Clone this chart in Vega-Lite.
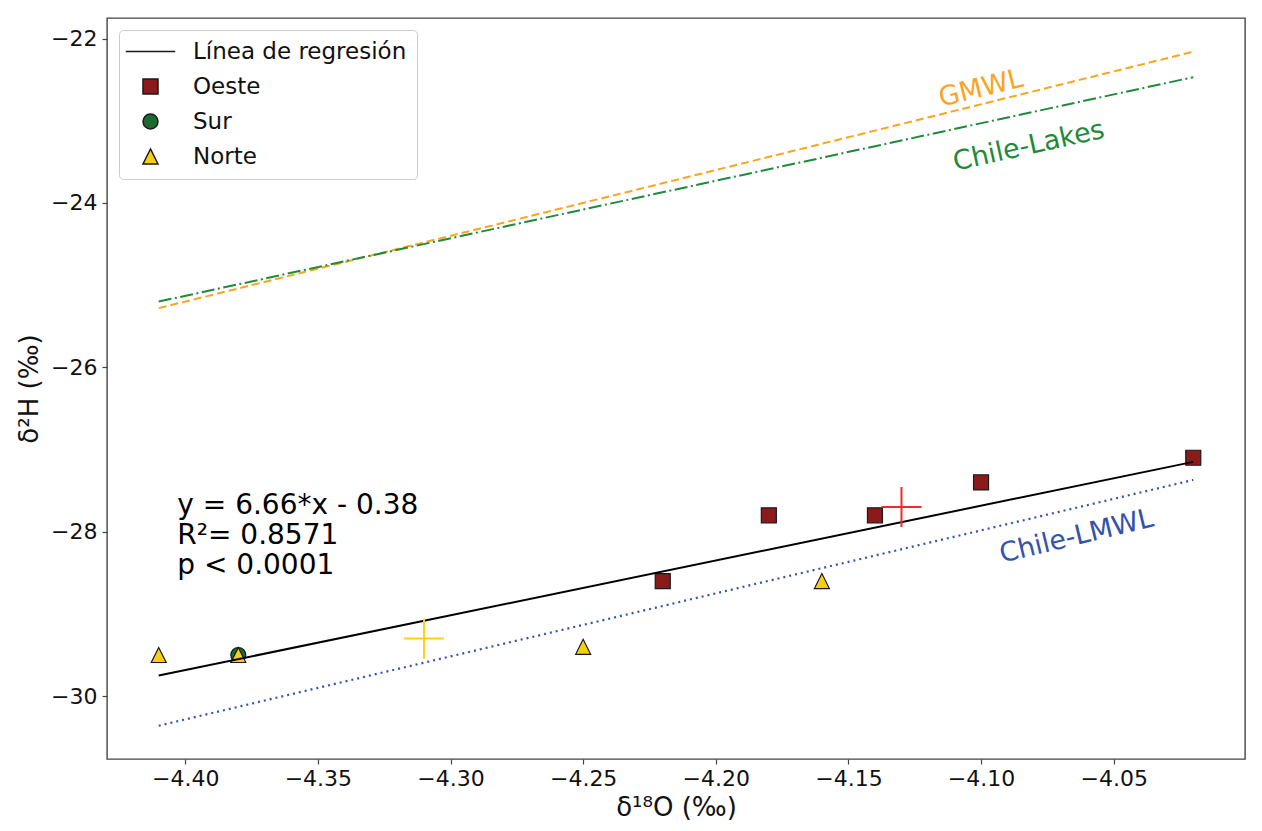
{
  "$schema": "https://vega.github.io/schema/vega-lite/v6.json",
  "width": 1138,
  "height": 741,
  "autosize": {"type": "none"},
  "padding": {"left": 107, "top": 18, "right": 17, "bottom": 72},
  "background": "white",
  "config": {
    "font": "DejaVu Sans",
    "view": {"stroke": "#444444", "strokeWidth": 1.4},
    "axis": {
      "grid": false,
      "domain": false,
      "tickColor": "#444444",
      "tickSize": 5,
      "tickWidth": 1.2,
      "labelFont": "DejaVu Sans",
      "labelFontSize": 22,
      "labelColor": "#111111",
      "titleFont": "DejaVu Sans",
      "titleFontSize": 26,
      "titleFontWeight": "normal",
      "titleColor": "#111111"
    }
  },
  "datasets": {
    "lineas": [
      {"serie": "Regresión", "d18O": -4.41, "d2H": -29.75},
      {"serie": "Regresión", "d18O": -4.02, "d2H": -27.15},
      {"serie": "GMWL", "d18O": -4.41, "d2H": -25.28},
      {"serie": "GMWL", "d18O": -4.02, "d2H": -22.16},
      {"serie": "Chile-Lakes", "d18O": -4.41, "d2H": -25.2},
      {"serie": "Chile-Lakes", "d18O": -4.02, "d2H": -22.47},
      {"serie": "Chile-LMWL", "d18O": -4.41, "d2H": -30.36},
      {"serie": "Chile-LMWL", "d18O": -4.02, "d2H": -27.37}
    ],
    "muestras": [
      {"Grupo": "Oeste", "d18O": -4.22, "d2H": -28.6},
      {"Grupo": "Oeste", "d18O": -4.18, "d2H": -27.8},
      {"Grupo": "Oeste", "d18O": -4.14, "d2H": -27.8},
      {"Grupo": "Oeste", "d18O": -4.1, "d2H": -27.4},
      {"Grupo": "Oeste", "d18O": -4.02, "d2H": -27.1},
      {"Grupo": "Sur", "d18O": -4.38, "d2H": -29.5},
      {"Grupo": "Norte", "d18O": -4.41, "d2H": -29.5},
      {"Grupo": "Norte", "d18O": -4.38, "d2H": -29.5},
      {"Grupo": "Norte", "d18O": -4.25, "d2H": -29.4},
      {"Grupo": "Norte", "d18O": -4.16, "d2H": -28.6}
    ],
    "medias": [
      {"Grupo": "Norte", "d18O": -4.31, "d2H": -29.3},
      {"Grupo": "Oeste", "d18O": -4.13, "d2H": -27.7}
    ],
    "ecuacion": [
      {"texto": "y = 6.66*x - 0.38", "d18O": -4.403, "d2H": -27.79},
      {"texto": "R²= 0.8571", "d18O": -4.403, "d2H": -28.155},
      {"texto": "p < 0.0001", "d18O": -4.403, "d2H": -28.52}
    ],
    "etiquetas": [
      {"texto": "GMWL", "d18O": -4.1, "d2H": -22.61},
      {"texto": "Chile-Lakes", "d18O": -4.082, "d2H": -23.31},
      {"texto": "Chile-LMWL", "d18O": -4.064, "d2H": -28.06}
    ]
  },
  "encoding": {
    "x": {
      "field": "d18O",
      "type": "quantitative",
      "scale": {"domain": [-4.4295, -4.0005], "nice": false, "zero": false},
      "axis": {
        "values": [-4.4, -4.35, -4.3, -4.25, -4.2, -4.15, -4.1, -4.05],
        "format": ".2f",
        "labelPadding": 4,
        "title": "δ¹⁸O (‰)",
        "titlePadding": 5
      }
    },
    "y": {
      "field": "d2H",
      "type": "quantitative",
      "scale": {"domain": [-30.765, -21.75], "nice": false, "zero": false},
      "axis": {
        "values": [-30, -28, -26, -24, -22],
        "format": "d",
        "labelPadding": 5,
        "title": "δ²H (‰)",
        "titlePadding": 8
      }
    }
  },
  "layer": [
    {
      "data": {"name": "lineas"},
      "transform": [{"filter": "datum.serie === 'GMWL'"}],
      "mark": {"type": "line", "color": "#f9a51f", "strokeWidth": 2, "strokeDash": [8, 4]}
    },
    {
      "data": {"name": "lineas"},
      "transform": [{"filter": "datum.serie === 'Chile-Lakes'"}],
      "mark": {"type": "line", "color": "#1f8a3a", "strokeWidth": 2, "strokeDash": [13, 3.5, 2, 3.5]}
    },
    {
      "data": {"name": "lineas"},
      "transform": [{"filter": "datum.serie === 'Chile-LMWL'"}],
      "mark": {"type": "line", "color": "#3353a8", "strokeWidth": 2.2, "strokeDash": [2, 4]}
    },
    {
      "data": {"name": "muestras"},
      "mark": {"type": "point", "filled": true, "opacity": 1, "stroke": "#1a1a1a", "strokeWidth": 1.2, "size": 225},
      "encoding": {
        "fill": {
          "field": "Grupo",
          "type": "nominal",
          "scale": {
            "domain": ["Línea de regresión", "Oeste", "Sur", "Norte"],
            "range": ["#000000", "#8b1a1a", "#1b6b30", "#f6cf14"]
          },
          "legend": {
            "title": null,
            "orient": "top-left",
            "offset": 11.5,
            "padding": 10,
            "fillColor": "white",
            "strokeColor": "#cccccc",
            "cornerRadius": 4,
            "labelFont": "DejaVu Sans",
            "labelFontSize": 23,
            "labelColor": "#111111",
            "labelLimit": 0,
            "labelOffset": 31,
            "symbolOffset": 10,
            "symbolSize": 225,
            "rowPadding": 11,
            "encode": {
              "symbols": {
                "update": {
                  "stroke": {"value": "#1a1a1a"},
                  "strokeWidth": {"value": 1.7},
                  "opacity": {"value": 1}
                }
              }
            }
          }
        },
        "shape": {
          "field": "Grupo",
          "type": "nominal",
          "scale": {
            "domain": ["Línea de regresión", "Oeste", "Sur", "Norte"],
            "range": ["M-3.3,0L3.3,0", "square", "circle", "M0,-1L-1,1L1,1Z"]
          },
          "legend": {
            "title": null,
            "orient": "top-left",
            "offset": 11.5,
            "padding": 10,
            "fillColor": "white",
            "strokeColor": "#cccccc",
            "cornerRadius": 4,
            "labelFont": "DejaVu Sans",
            "labelFontSize": 23,
            "labelColor": "#111111",
            "labelLimit": 0,
            "labelOffset": 31,
            "symbolOffset": 10,
            "symbolSize": 225,
            "rowPadding": 11,
            "encode": {
              "symbols": {
                "update": {
                  "stroke": {"value": "#1a1a1a"},
                  "strokeWidth": {"value": 1.7},
                  "opacity": {"value": 1}
                }
              }
            }
          }
        }
      }
    },
    {
      "data": {"name": "lineas"},
      "transform": [{"filter": "datum.serie === 'Regresión'"}],
      "mark": {"type": "line", "color": "#000000", "strokeWidth": 2}
    },
    {
      "data": {"name": "medias"},
      "mark": {"type": "point", "shape": "M-1,0L1,0M0,-1L0,1", "size": 1600, "filled": false, "strokeWidth": 2, "opacity": 1},
      "encoding": {
        "stroke": {
          "field": "Grupo",
          "type": "nominal",
          "scale": {"domain": ["Norte", "Oeste"], "range": ["#ffd21a", "#ee2b2b"]},
          "legend": null
        }
      }
    },
    {
      "data": {"name": "ecuacion"},
      "mark": {"type": "text", "align": "left", "baseline": "alphabetic", "fontSize": 28, "color": "#000000"},
      "encoding": {"text": {"field": "texto"}}
    },
    {
      "data": {"name": "etiquetas"},
      "transform": [{"filter": "datum.texto === 'GMWL'"}],
      "mark": {"type": "text", "align": "center", "baseline": "middle", "fontSize": 27, "angle": -14, "color": "#f9a51f"},
      "encoding": {"text": {"field": "texto"}}
    },
    {
      "data": {"name": "etiquetas"},
      "transform": [{"filter": "datum.texto === 'Chile-Lakes'"}],
      "mark": {"type": "text", "align": "center", "baseline": "middle", "fontSize": 27, "angle": -12.5, "color": "#1f8a3a"},
      "encoding": {"text": {"field": "texto"}}
    },
    {
      "data": {"name": "etiquetas"},
      "transform": [{"filter": "datum.texto === 'Chile-LMWL'"}],
      "mark": {"type": "text", "align": "center", "baseline": "middle", "fontSize": 27, "angle": -13.5, "color": "#3353a8"},
      "encoding": {"text": {"field": "texto"}}
    }
  ]
}
